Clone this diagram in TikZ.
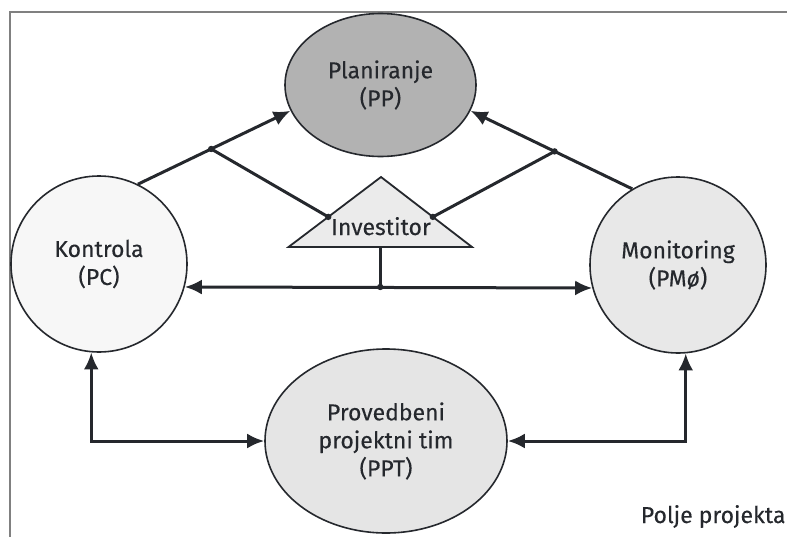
\documentclass[tikz,border=0pt]{standalone}
\usepackage{fontspec}
\setmainfont{Fira Sans}[FakeBold=0.2]
\usetikzlibrary{shapes.geometric,arrows.meta,calc}
\tikzset{>={Latex[length=17pt,width=15pt]}}
\definecolor{ink}{HTML}{25282D}
\tikzset{
  phase/.style={draw=ink,line width=1.6pt,ellipse,align=center,
    text=ink,font=\fontsize{23}{28}\selectfont,inner sep=0pt},
  link/.style={draw=ink,line width=3pt},
  joint/.style={fill=ink}
}

\begin{document}
\begin{tikzpicture}[x=1pt,y=-1pt]
  \useasboundingbox (0,0) rectangle (787,536);
  \draw[gray,line width=1.6pt] (10,560) -- (10,12) -- (800,12);
  % faze projekta
  \node[phase,fill=black!30,minimum width=191pt,minimum height=143pt] (pp) at (380.5,85) {Planiranje\\(PP)};
  \node[phase,fill=black!3,minimum width=176pt,minimum height=176pt] (pc) at (99,264) {Kontrola\\(PC)};
  \node[phase,fill=black!9,minimum width=176pt,minimum height=176pt] (pm) at (678,265) {Monitoring\\(PM\textit{ø})};
  \node[phase,fill=black!10,minimum width=242pt,minimum height=184pt] (ppt) at (386,441) {Provedbeni\\projektni tim\\(PPT)};
  % investitor
  \coordinate (ta) at (381,177);
  \coordinate (tl) at (288.5,247);
  \coordinate (tr) at (472,247);
  \filldraw[draw=ink,fill=black!8,line width=1.8pt] (ta) -- (tl) -- (tr) -- cycle;
  \node[text=ink,font=\fontsize{23}{28}\selectfont,anchor=base] (inv) at (381,235) {Investitor};
  \coordinate (tb) at ($(tl)!0.5!(tr)$);
  % veze
  \draw[link,->] (pc.64) -- coordinate[pos=0.48] (jl) (pp.196);
  \draw[link,->] (pm.121) -- coordinate[pos=0.48] (jr) (pp.344);
  \draw[link] (jl) -- ($(ta)!0.57!(tl)$);
  \draw[link] (jr) -- ($(ta)!0.57!(tr)$);
  \draw[link,<->] (pc.345) -- (pm.195);
  \draw[link] (tb) -- (tb |- pc.345) coordinate (jm);
  \draw[link,<->] (pc.265) |- (ppt.west);
  \draw[link,<->] (pm.275) |- (ppt.east);
  \foreach \j in {jl,jr,jm}
    \fill[joint] (\j) circle (3.2pt);
  \fill[joint] ($(ta)!0.57!(tl)$) circle (3.2pt);
  \fill[joint] ($(ta)!0.57!(tr)$) circle (3.2pt);
  \node[text=ink,font=\fontsize{23}{28}\selectfont,anchor=base east] (polje) at (789,523) {Polje projekta};
\end{tikzpicture}
\end{document}
